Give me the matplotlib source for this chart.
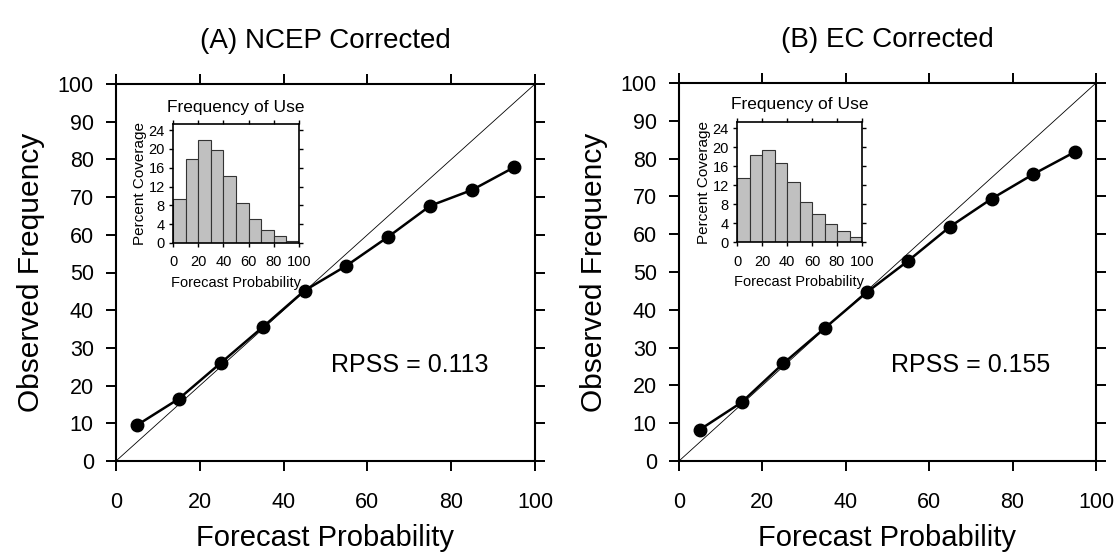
import numpy as np
import matplotlib
matplotlib.use('Agg')
import matplotlib.pyplot as plt

plt.rcParams['font.family'] = ['Liberation Sans', 'DejaVu Sans']

# reliability data
fcst_prob = [5, 15, 25, 35, 45, 55, 65, 75, 85, 95]
obs_ncep = [9.5, 16.5, 26.0, 35.5, 45.2, 51.8, 59.5, 67.7, 71.9, 77.9]
obs_ec = [8.3, 15.5, 25.8, 35.2, 44.6, 53.0, 62.0, 69.4, 75.9, 81.8]

# frequency of use histograms (percent coverage)
bin_left = [0, 10, 20, 30, 40, 50, 60, 70, 80, 90]
use_ncep = [9.4, 17.8, 21.9, 19.7, 14.2, 8.6, 5.0, 2.8, 1.5, 0.5]
use_ec = [13.4, 18.3, 19.4, 16.7, 12.6, 8.5, 5.8, 3.9, 2.3, 1.0]

titles = ['(A) NCEP Corrected', '(B) EC Corrected']
rpss = ['0.113', '0.155']

W, H = 1114, 554
fig = plt.figure(figsize=(W / 100, H / 100), dpi=100)

def px_axes(x0, y0, x1, y1):
    return fig.add_axes([x0 / W, 1 - y1 / H, (x1 - x0) / W, (y1 - y0) / H])

main_boxes = [(116, 84, 535, 461), (679, 83, 1096, 461)]
inset_boxes = [(173, 124, 299, 243), (737, 122, 862, 242)]

for i, obs in enumerate([obs_ncep, obs_ec]):
    ax = px_axes(*main_boxes[i])
    ax.plot([0, 100], [0, 100], color='black', lw=0.6)
    ax.plot(fcst_prob, obs, color='black', lw=1.8, marker='o', ms=9)
    ax.set_xlim(0, 100)
    ax.set_ylim(0, 100)
    ax.set_xticks(range(0, 101, 20))
    ax.set_yticks(range(0, 101, 10))
    ax.tick_params(direction='out', length=7, width=1.4, labelsize=15.5,
                   top=True, right=True)
    ax.tick_params(axis='x', pad=15)
    ax.tick_params(axis='y', pad=9)
    for s in ax.spines.values():
        s.set_linewidth(1.5)
    ax.set_xlabel('Forecast Probability', fontsize=21, labelpad=8)
    ax.set_ylabel('Observed Frequency', fontsize=21.5, labelpad=9)
    ax.set_title(titles[i], fontsize=20, pad=26)
    ax.text(70, 25.5, 'RPSS = ' + rpss[i], fontsize=18, ha='center', va='center')

    use = [use_ncep, use_ec][i]
    ins = px_axes(*inset_boxes[i])
    ins.bar(bin_left, use, width=10, align='edge', color='#c0c0c0',
            edgecolor='#333333', lw=0.8)
    ins.set_xlim(0, 100)
    ins.set_ylim(0, 25.3)
    ins.set_xticks(range(0, 101, 20))
    ins.set_yticks(range(0, 25, 4))
    ins.tick_params(direction='out', length=3, width=1, labelsize=10.5,
                    top=True, right=True)
    ins.tick_params(axis='x', pad=6)
    ins.tick_params(axis='y', pad=3)
    for s in ins.spines.values():
        s.set_linewidth(1.2)
    ins.set_xlabel('Forecast Probability', fontsize=10.5, labelpad=5)
    ins.set_ylabel('Percent Coverage', fontsize=11, labelpad=1)
    ins.set_title('Frequency of Use', fontsize=12.5, pad=9)

fig.savefig('out.png', dpi=100)
